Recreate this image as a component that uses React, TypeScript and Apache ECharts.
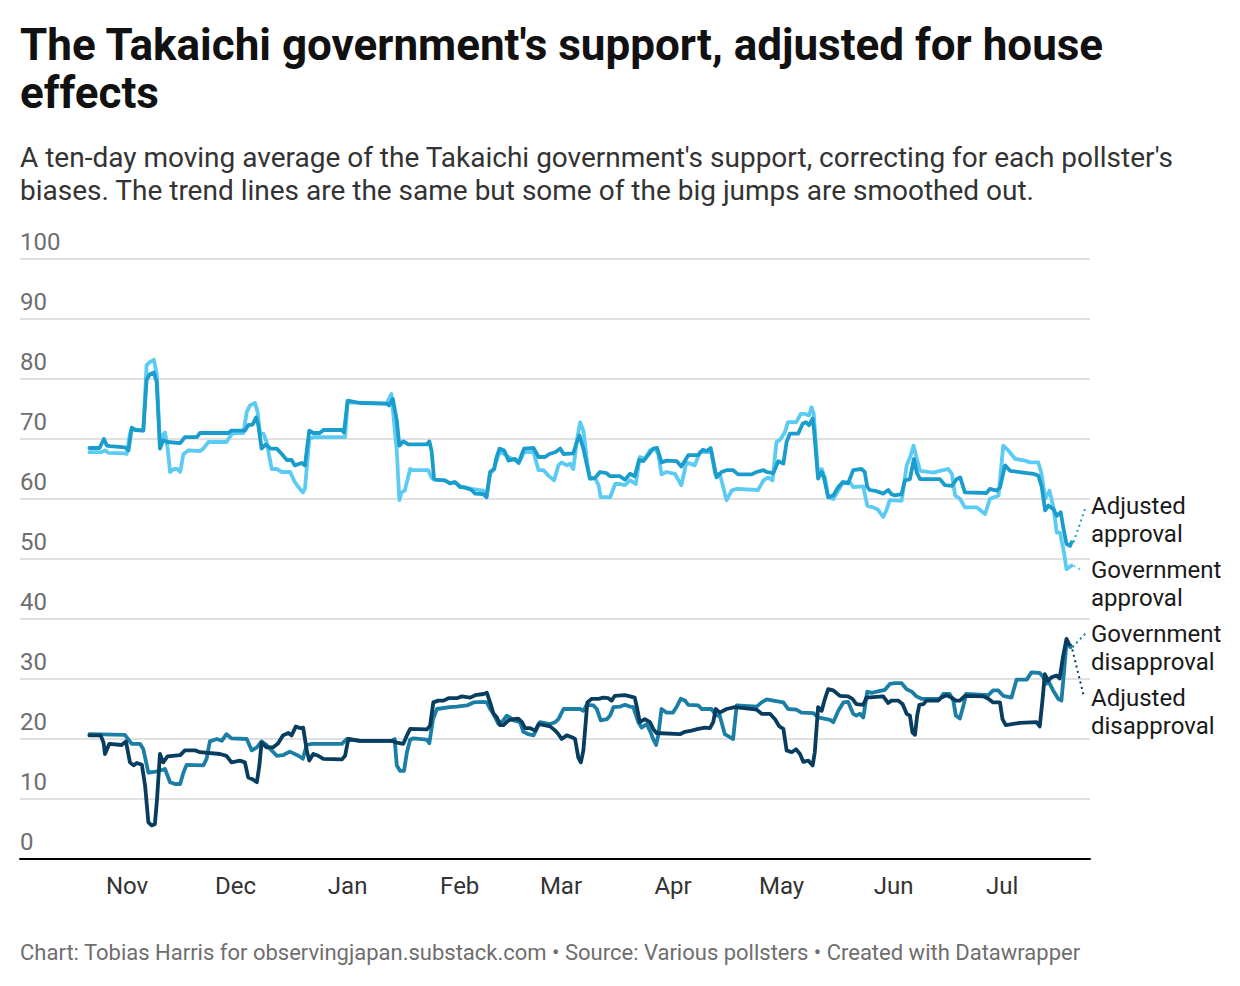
import React, { useEffect, useRef } from "react";
import * as echarts from "echarts";

// Day offsets are days counted from 1 Nov 2025; values are percent.
const DAY_MS = 86400000;
const BASE_DATE = new Date(2025, 10, 1).getTime();
const AXIS_START_DAY = -29.6;
const AXIS_END_DAY = 266.3;

const monthNames = ["Jan", "Feb", "Mar", "Apr", "May", "Jun", "Jul", "Aug", "Sep", "Oct", "Nov", "Dec"];

const titleText = "The Takaichi government's support, adjusted for house\neffects";
const subtitleText =
  "A ten-day moving average of the Takaichi government's support, correcting for each pollster's\nbiases. The trend lines are the same but some of the big jumps are smoothed out.";
const footerText =
  "Chart: Tobias Harris for observingjapan.substack.com \u2022 Source: Various pollsters \u2022 Created with Datawrapper";

const seriesNames = ["Government approval", "Adjusted approval", "Government disapproval", "Adjusted disapproval"];
const seriesColors = ["#5ccbf4", "#1a9dcc", "#1a7ea5", "#083d5f"];

const governmentApproval: [number, number][] = [
  [-10.4, 67.8], [-7.0, 67.8], [-6.1, 68.1], [-5.2, 67.7], [-0.6, 67.6], [-0.1, 67.5], [0.8, 70.9], [1.3, 71.7],
  [4.5, 71.4], [5.4, 82.3], [6.3, 82.8], [7.4, 83.2], [8.2, 80.9], [9.1, 69.2], [9.8, 70.6], [10.5, 71.1],
  [11.2, 68.6], [11.9, 64.5], [13.0, 65.0], [13.9, 65.0], [14.7, 64.5], [15.6, 67.5], [17.0, 68.1], [20.2, 68.0],
  [21.1, 68.4], [22.5, 69.5], [27.5, 69.5], [28.7, 70.6], [29.4, 71.0], [32.2, 71.0], [33.1, 74.5], [34.0, 75.6],
  [35.4, 76.0], [36.1, 74.5], [36.8, 70.9], [37.7, 70.9], [38.6, 69.5], [40.0, 65.0], [41.4, 65.0], [42.8, 64.5],
  [45.1, 64.5], [46.4, 62.8], [47.4, 62.0], [48.6, 61.1], [49.2, 61.7], [50.4, 70.0], [51.5, 70.3], [60.3, 70.3],
  [61.0, 76.1], [71.8, 75.9], [73.1, 77.5], [74.6, 68.0], [75.3, 59.8], [75.9, 61.1], [76.8, 61.4], [78.3, 65.0],
  [79.2, 64.8], [83.3, 64.8], [84.2, 63.6], [84.9, 63.2], [87.9, 63.1], [89.3, 62.6], [90.7, 62.8], [92.1, 62.1],
  [95.3, 61.7], [98.5, 61.4], [99.4, 60.3], [100.4, 64.2], [101.5, 65.0], [102.2, 66.4], [103.0, 67.8], [104.3, 67.5],
  [105.5, 67.0], [108.3, 66.1], [109.2, 67.0], [109.8, 67.8], [112.4, 67.8], [113.8, 64.8], [115.2, 64.8], [116.5, 63.9],
  [118.1, 63.1], [119.3, 65.6], [120.2, 66.1], [121.6, 65.6], [122.5, 65.9], [123.4, 65.0], [124.4, 69.8], [125.3, 72.8],
  [126.2, 71.4], [127.3, 65.9], [128.0, 63.4], [129.4, 63.5], [130.4, 62.3], [131.0, 60.3], [133.6, 60.3], [135.0, 62.5],
  [136.3, 62.5], [137.7, 62.3], [139.1, 63.1], [140.7, 62.5], [141.8, 67.0], [143.2, 66.7], [144.6, 68.1], [146.0, 68.4],
  [146.9, 67.5], [147.8, 64.1], [149.2, 64.5], [151.5, 64.2], [153.3, 62.3], [154.7, 66.1], [157.0, 65.6], [158.4, 67.8],
  [161.6, 67.8], [162.6, 64.2], [163.9, 64.2], [165.8, 59.8], [167.2, 61.4], [168.6, 61.7], [174.5, 61.5], [176.0, 63.1],
  [177.3, 63.6], [178.5, 63.1], [179.6, 69.5], [180.5, 69.8], [181.9, 71.1], [182.8, 72.8], [185.1, 72.8], [186.3, 74.2],
  [187.4, 74.2], [188.6, 73.9], [189.3, 75.3], [189.9, 74.2], [191.1, 64.2], [192.1, 65.0], [193.0, 63.6], [193.9, 60.3],
  [195.3, 60.0], [196.7, 61.4], [198.0, 62.8], [199.9, 62.8], [200.8, 62.0], [203.6, 62.1], [204.7, 58.9], [206.3, 58.6],
  [207.7, 58.2], [209.1, 57.0], [210.0, 58.1], [210.9, 59.8], [214.2, 59.7], [215.6, 65.6], [216.7, 67.2], [217.5, 68.9],
  [218.2, 67.2], [219.3, 64.7], [223.0, 64.4], [224.8, 64.7], [227.1, 65.0], [228.1, 64.2], [229.0, 60.6], [230.4, 60.0],
  [231.7, 58.6], [235.0, 58.6], [237.3, 57.5], [238.6, 60.0], [241.0, 60.6], [242.3, 68.9], [243.7, 68.1], [245.6, 66.7],
  [248.3, 66.4], [249.7, 66.1], [252.0, 66.1], [252.9, 64.2], [253.9, 60.0], [255.1, 61.4], [256.2, 58.6], [257.1, 54.4],
  [258.0, 54.4], [259.1, 51.1], [259.8, 48.3], [261.2, 48.9],
];

const adjustedApproval: [number, number][] = [
  [-10.4, 68.5], [-7.6, 68.5], [-6.4, 70.0], [-5.6, 68.9], [-4.7, 68.8], [-0.6, 68.6], [0.4, 68.1], [1.3, 71.9],
  [2.2, 71.5], [4.5, 71.4], [5.4, 79.8], [6.3, 80.8], [7.4, 81.1], [8.2, 79.5], [9.1, 68.4], [10.0, 69.8],
  [11.2, 69.5], [14.7, 69.3], [16.0, 70.3], [19.3, 70.3], [20.2, 71.0], [28.0, 71.0], [28.9, 71.4], [32.6, 71.4],
  [33.5, 72.3], [34.7, 72.4], [35.7, 73.6], [36.3, 72.3], [37.2, 68.4], [38.4, 69.1], [39.7, 68.4], [41.4, 68.4],
  [42.8, 67.5], [44.2, 66.5], [45.5, 66.5], [46.4, 65.6], [48.3, 66.0], [49.2, 65.6], [50.4, 71.4], [51.5, 71.0],
  [53.3, 71.0], [54.3, 71.5], [59.4, 71.5], [60.0, 71.1], [61.0, 76.4], [64.4, 76.0], [71.8, 75.9], [72.5, 75.6],
  [73.5, 76.7], [74.6, 73.1], [75.3, 68.9], [76.4, 69.6], [77.8, 69.1], [82.9, 69.1], [83.6, 69.6], [84.2, 68.1],
  [84.9, 63.4], [86.1, 63.2], [87.9, 63.1], [89.3, 62.6], [90.7, 62.8], [92.1, 62.0], [93.5, 61.9], [95.3, 61.5],
  [96.2, 60.9], [98.5, 60.8], [99.4, 60.3], [100.4, 64.5], [101.5, 65.0], [102.2, 67.0], [103.0, 68.4], [104.3, 68.1],
  [105.5, 66.4], [107.3, 66.7], [108.3, 66.0], [109.2, 67.5], [109.8, 68.4], [112.4, 68.5], [113.8, 67.0], [115.6, 67.0],
  [116.8, 67.5], [118.4, 67.8], [119.8, 68.4], [120.7, 67.5], [123.4, 67.6], [124.4, 69.5], [125.1, 70.6], [126.2, 68.4],
  [127.3, 65.3], [128.0, 63.4], [129.4, 63.5], [130.8, 64.5], [132.6, 64.3], [133.6, 63.8], [136.3, 63.8], [137.7, 63.2],
  [139.1, 64.2], [140.4, 63.8], [141.6, 66.5], [142.8, 66.3], [144.1, 67.3], [145.5, 68.4], [146.6, 68.5], [147.8, 66.1],
  [149.2, 66.4], [152.0, 66.3], [153.3, 65.4], [155.2, 67.3], [157.9, 67.3], [159.2, 68.2], [160.3, 68.0], [161.4, 68.5],
  [162.1, 66.4], [163.0, 63.6], [164.4, 64.5], [165.8, 64.8], [167.6, 64.8], [169.0, 64.1], [172.7, 64.1], [174.1, 64.5],
  [176.0, 64.8], [176.9, 64.5], [178.7, 64.3], [180.1, 66.3], [181.5, 65.9], [182.4, 69.5], [183.3, 70.9], [185.6, 70.9],
  [186.8, 72.5], [187.7, 72.8], [188.6, 72.3], [189.6, 73.4], [190.0, 71.4], [191.1, 63.4], [192.1, 64.5], [192.7, 63.6],
  [193.9, 60.3], [195.3, 60.6], [196.7, 62.0], [197.9, 62.8], [199.4, 62.6], [200.8, 64.8], [203.1, 65.0], [204.0, 64.5],
  [204.7, 62.0], [205.4, 61.5], [207.3, 61.3], [209.1, 60.9], [210.5, 61.5], [211.4, 60.8], [212.4, 60.6], [214.2, 60.8],
  [215.1, 63.1], [216.5, 63.3], [217.6, 66.7], [218.4, 64.4], [219.3, 63.3], [224.8, 63.3], [226.2, 62.3], [228.1, 62.2],
  [229.4, 63.3], [230.4, 63.6], [231.7, 61.1], [237.7, 61.0], [238.6, 61.7], [240.5, 61.4], [241.4, 61.9], [242.8, 65.6],
  [244.2, 64.7], [247.9, 64.4], [250.6, 64.2], [252.0, 63.9], [252.9, 62.2], [253.9, 58.1], [254.8, 58.9], [256.2, 58.3],
  [257.1, 57.2], [258.2, 57.8], [258.9, 55.3], [259.8, 52.5], [260.8, 52.2], [261.2, 52.8],
];

const governmentDisapproval: [number, number][] = [
  [-10.4, 20.8], [-0.6, 20.7], [0.4, 19.9], [1.3, 19.2], [3.6, 19.2], [4.5, 18.3], [5.9, 14.4], [7.3, 14.5],
  [8.9, 14.7], [10.5, 15.0], [11.9, 12.8], [13.3, 12.5], [14.7, 12.5], [15.6, 14.4], [16.5, 15.7], [21.1, 15.6],
  [22.0, 16.7], [22.9, 19.6], [24.8, 20.0], [26.2, 19.7], [27.5, 20.8], [28.9, 20.1], [33.1, 20.0], [34.5, 18.1],
  [35.9, 18.6], [37.2, 19.6], [38.6, 19.0], [40.0, 18.1], [41.4, 17.2], [43.1, 17.3], [45.0, 17.9], [47.4, 17.2],
  [48.6, 16.7], [49.7, 19.0], [51.1, 19.2], [59.4, 19.2], [60.8, 20.0], [64.4, 19.7], [73.2, 19.7], [74.0, 20.0],
  [74.6, 15.6], [75.5, 14.7], [76.6, 14.7], [77.4, 17.8], [78.3, 19.9], [79.2, 20.1], [82.9, 19.9], [83.6, 19.3],
  [84.6, 23.3], [85.7, 25.0], [89.3, 25.3], [91.2, 25.4], [94.0, 25.6], [95.8, 26.1], [98.6, 26.2], [99.5, 26.1],
  [100.4, 25.0], [101.3, 24.2], [102.7, 22.5], [104.1, 23.1], [105.0, 23.9], [105.9, 23.6], [106.9, 23.1], [108.7, 22.8],
  [109.6, 21.2], [111.0, 20.8], [112.4, 20.6], [113.3, 21.7], [114.2, 22.8], [117.0, 22.5], [118.4, 22.8], [119.3, 23.3],
  [120.7, 25.0], [125.3, 25.0], [126.2, 24.7], [127.1, 25.7], [129.0, 25.6], [129.9, 25.0], [131.0, 23.1], [132.7, 23.3],
  [133.6, 23.9], [134.5, 25.3], [136.4, 25.4], [137.7, 25.7], [139.1, 25.4], [140.0, 25.3], [141.4, 22.8], [142.3, 21.9],
  [143.7, 22.5], [144.8, 21.1], [145.5, 20.0], [146.3, 19.0], [146.9, 20.6], [147.8, 25.0], [149.2, 24.4], [151.0, 24.4],
  [152.2, 25.6], [153.1, 26.7], [154.3, 26.4], [155.2, 25.7], [158.0, 25.6], [158.9, 25.0], [161.6, 25.0], [163.0, 23.9],
  [163.9, 23.9], [165.3, 20.8], [166.7, 20.3], [167.6, 20.0], [168.6, 25.6], [174.1, 25.4], [175.5, 26.1], [176.9, 26.6],
  [178.7, 26.4], [181.5, 26.1], [182.8, 25.0], [185.1, 24.9], [186.5, 24.4], [189.8, 24.3], [191.1, 23.6], [194.4, 23.2],
  [195.3, 22.8], [196.7, 24.7], [198.1, 26.1], [199.4, 26.2], [200.8, 24.2], [201.7, 23.9], [202.7, 24.2], [203.6, 23.6],
  [204.7, 27.9], [205.9, 27.7], [207.3, 27.9], [209.6, 28.2], [211.0, 29.2], [212.3, 29.3], [214.2, 29.3], [215.6, 28.3],
  [217.0, 27.9], [218.3, 27.1], [219.7, 26.7], [224.8, 26.7], [225.7, 27.5], [227.5, 27.5], [228.5, 26.4], [229.2, 23.9],
  [230.3, 23.4], [231.4, 25.8], [232.0, 27.5], [238.2, 27.3], [239.5, 28.1], [240.9, 28.1], [242.3, 27.2], [244.6, 26.9],
  [246.0, 29.9], [248.8, 29.9], [250.1, 31.1], [252.4, 31.0], [253.4, 30.3], [254.1, 29.2], [255.0, 29.4], [256.1, 28.1],
  [257.5, 26.7], [258.4, 26.4], [259.1, 31.1], [259.8, 36.1], [260.9, 35.3],
];

const adjustedDisapproval: [number, number][] = [
  [-10.4, 20.6], [-7.3, 20.6], [-6.5, 19.4], [-6.1, 17.5], [-4.9, 19.2], [-1.5, 19.0], [-0.3, 19.6], [0.8, 16.1],
  [1.8, 15.6], [2.7, 16.0], [4.1, 15.7], [5.0, 12.2], [5.9, 6.1], [6.8, 5.6], [7.7, 5.8], [8.3, 10.0],
  [9.1, 17.5], [10.0, 16.1], [11.2, 17.1], [14.7, 17.3], [16.0, 18.1], [18.8, 18.1], [20.2, 17.8], [25.7, 17.5],
  [27.5, 17.2], [28.9, 16.1], [31.2, 16.4], [32.6, 16.1], [33.5, 13.6], [34.7, 13.3], [35.9, 12.8], [36.6, 15.6],
  [37.2, 19.4], [38.6, 18.6], [40.4, 18.6], [41.8, 19.3], [43.1, 20.6], [44.6, 21.0], [45.5, 20.6], [46.7, 22.1],
  [48.0, 21.8], [48.7, 21.9], [49.7, 18.1], [50.4, 16.4], [51.5, 17.5], [52.9, 17.2], [54.3, 16.7], [59.4, 16.6],
  [60.3, 17.2], [61.2, 20.0], [64.4, 19.7], [73.2, 19.7], [74.6, 19.4], [76.4, 19.2], [77.4, 20.6], [78.3, 21.7],
  [82.9, 21.6], [83.8, 22.2], [84.7, 26.1], [86.1, 26.4], [87.5, 26.4], [88.9, 26.8], [91.2, 26.8], [92.6, 27.1],
  [94.9, 26.9], [96.3, 27.3], [98.6, 27.5], [99.5, 27.7], [100.4, 26.1], [101.3, 24.3], [102.3, 23.6], [103.2, 22.3],
  [104.1, 22.3], [105.5, 23.1], [106.9, 23.3], [108.2, 23.4], [109.2, 22.8], [110.1, 21.8], [111.5, 21.8], [112.9, 21.4],
  [113.8, 22.5], [117.0, 22.1], [118.4, 21.4], [119.3, 20.8], [120.2, 20.0], [121.6, 20.6], [123.0, 20.3], [123.9, 20.0],
  [124.8, 16.9], [125.5, 16.1], [126.2, 18.1], [127.3, 26.1], [128.5, 26.7], [130.4, 26.7], [131.7, 26.9], [133.1, 26.8],
  [134.0, 26.4], [134.9, 27.2], [137.7, 27.3], [139.1, 27.1], [140.4, 26.9], [141.1, 25.0], [141.8, 22.8], [143.2, 23.3],
  [144.6, 22.8], [145.5, 21.7], [146.4, 21.0], [152.9, 20.8], [154.3, 21.2], [156.1, 21.4], [158.0, 21.7], [159.8, 21.9],
  [161.2, 21.8], [162.1, 22.8], [162.8, 25.0], [163.9, 24.4], [165.8, 25.0], [168.1, 25.3], [171.3, 25.1], [174.1, 24.9],
  [175.5, 24.2], [177.8, 24.2], [179.2, 23.3], [180.4, 22.1], [181.5, 21.7], [182.4, 18.1], [183.8, 17.8], [185.0, 18.3],
  [186.1, 17.5], [187.0, 16.2], [188.4, 16.4], [189.6, 15.6], [190.2, 17.8], [191.1, 25.3], [192.1, 24.7], [193.0, 26.7],
  [193.9, 28.3], [195.3, 28.1], [197.1, 27.2], [199.4, 27.1], [200.6, 26.7], [201.7, 25.8], [203.6, 25.7], [204.5, 26.9],
  [209.1, 27.1], [210.5, 26.0], [211.4, 26.4], [213.3, 26.4], [214.5, 25.8], [215.6, 24.2], [216.5, 23.9], [217.2, 21.1],
  [217.9, 20.7], [218.5, 23.9], [219.1, 25.7], [220.2, 25.8], [221.1, 26.4], [224.3, 26.4], [225.2, 26.9], [226.6, 27.3],
  [228.0, 26.9], [229.2, 26.4], [230.3, 26.4], [231.7, 27.2], [236.8, 27.1], [238.2, 26.7], [239.5, 26.1], [241.4, 26.1],
  [242.1, 23.3], [243.0, 22.3], [246.9, 22.7], [251.5, 22.8], [252.4, 22.1], [253.2, 26.7], [253.8, 30.8], [254.7, 29.7],
  [255.7, 30.3], [257.0, 30.6], [257.9, 30.1], [258.9, 33.9], [259.8, 36.7], [260.5, 35.8],
];

const seriesData = [governmentApproval, adjustedApproval, governmentDisapproval, adjustedDisapproval];

// Right-hand labels: text, series index, label centre y, leader end point
const endLabels = [
  { text: "Adjusted\napproval", series: 1, y: 520, lx: 1086, ly: 506 },
  { text: "Government\napproval", series: 0, y: 584, lx: 1081, ly: 570 },
  { text: "Government\ndisapproval", series: 2, y: 648, lx: 1086, ly: 633 },
  { text: "Adjusted\ndisapproval", series: 3, y: 712, lx: 1084, ly: 697 },
];

const FONT = "Roboto, 'Noto Sans', sans-serif";

const toTime = (d: number) => BASE_DATE + d * DAY_MS;

export default function App() {
  const ref = useRef<HTMLDivElement>(null);

  useEffect(() => {
    document.body.style.margin = "0";
    document.body.style.overflow = "hidden";
    if (!ref.current) return;
    const chart = echarts.init(ref.current, undefined, { renderer: "svg" });

    const option: any = {
      animation: false,
      backgroundColor: "#ffffff",
      textStyle: { fontFamily: FONT },
      title: [
        {
          text: titleText,
          left: 20,
          top: 21,
          padding: 0,
          textStyle: { fontFamily: FONT, fontSize: 44, fontWeight: "bold", lineHeight: 48, color: "#111111" },
        },
        {
          text: subtitleText,
          left: 20,
          top: 141,
          padding: 0,
          textStyle: { fontFamily: FONT, fontSize: 28, fontWeight: "normal", lineHeight: 33, color: "#333333" },
        },
        {
          text: footerText,
          left: 20,
          top: 939,
          padding: 0,
          textStyle: { fontFamily: FONT, fontSize: 22, fontWeight: "normal", lineHeight: 26, color: "#6e6e6e" },
        },
      ],
      grid: { left: 20, right: 150, top: 259, bottom: 127, containLabel: false, outerBoundsMode: "none" },
      xAxis: {
        type: "time",
        min: toTime(AXIS_START_DAY),
        max: toTime(AXIS_END_DAY),
        splitNumber: 10,
        axisLine: { show: true, lineStyle: { color: "#000000", width: 2 } },
        axisTick: { show: false },
        splitLine: { show: false },
        axisLabel: {
          show: true,
          margin: 15,
          fontFamily: FONT,
          fontSize: 24,
          color: "#333333",
          showMinLabel: false,
          showMaxLabel: false,
          formatter: (val: number) => {
            const dt = new Date(val);
            return dt.getDate() === 1 ? monthNames[dt.getMonth()] : "";
          },
        },
      },
      yAxis: {
        type: "value",
        min: 0,
        max: 100,
        interval: 10,
        axisLine: { show: false },
        axisTick: { show: false },
        splitLine: { show: true, lineStyle: { color: "#d6d6d6", width: 1.5 } },
        axisLabel: {
          inside: true,
          margin: 0,
          align: "left",
          verticalAlign: "bottom",
          padding: [0, 0, 5, 0],
          fontFamily: FONT,
          fontSize: 24,
          color: "#6e6e6e",
        },
      },
      series: seriesData.map((pts, i) => ({
        name: seriesNames[i],
        type: "line",
        data: pts.map(([d, v]) => [toTime(d), v]),
        showSymbol: false,
        symbol: "none",
        z: 2 + i,
        lineStyle: { color: seriesColors[i], width: 3.8, join: "round", cap: "round" },
        itemStyle: { color: seriesColors[i] },
        emphasis: { disabled: true },
        silent: true,
      })),
    };

    chart.setOption(option);

    const graphics: any[] = [];
    endLabels.forEach((lab) => {
      const pts = seriesData[lab.series];
      const last = pts[pts.length - 1];
      const p = chart.convertToPixel({ xAxisIndex: 0, yAxisIndex: 0 }, [toTime(last[0]), last[1]]) as number[];
      graphics.push({
        type: "line",
        shape: { x1: p[0] + 2, y1: p[1], x2: lab.lx, y2: lab.ly },
        style: { stroke: seriesColors[lab.series], lineWidth: 2, lineDash: [2, 3.5] },
        silent: true,
      });
      graphics.push({
        type: "text",
        x: 1091,
        y: lab.y,
        style: {
          text: lab.text,
          fontFamily: FONT,
          fontSize: 24,
          lineHeight: 28,
          fill: "#1a1a1a",
          align: "left",
          verticalAlign: "middle",
        },
        silent: true,
      });
    });
    chart.setOption({ graphic: graphics });

    return () => {
      chart.dispose();
    };
  }, []);

  return <div ref={ref} style={{ width: 1240, height: 986 }} />;
}
